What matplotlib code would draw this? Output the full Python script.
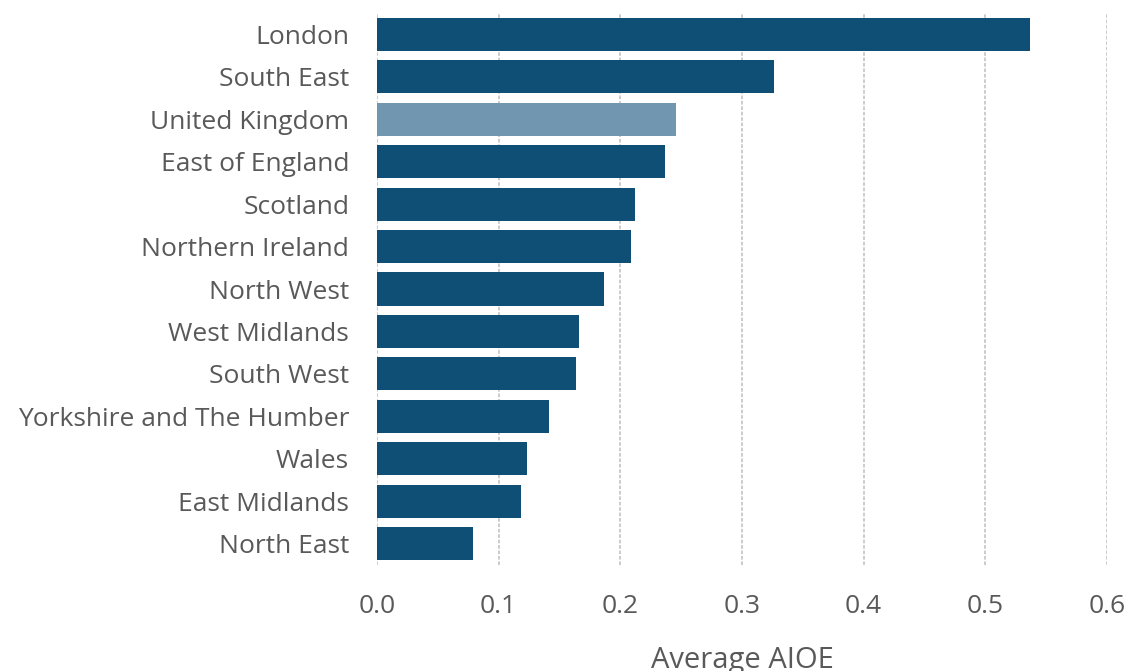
import numpy as np
import matplotlib.pyplot as plt

regions = ['London', 'South East', 'United Kingdom', 'East of England', 'Scotland',
           'Northern Ireland', 'North West', 'West Midlands', 'South West',
           'Yorkshire and The Humber', 'Wales', 'East Midlands', 'North East']
aioe = [0.537, 0.326, 0.246, 0.237, 0.212, 0.209, 0.187, 0.166, 0.164,
        0.141, 0.123, 0.118, 0.079]
xticks = [0.0, 0.1, 0.2, 0.3, 0.4, 0.5, 0.6]


def main():
    fig = plt.figure(figsize=(11.3, 6.71), dpi=100)
    ax = fig.add_axes([0.3336, 0.158, 0.646, 0.8225])

    colors = ['#7096B0' if r == 'United Kingdom' else '#0F4F75' for r in regions]
    y = np.arange(len(regions))
    ax.barh(y, aioe, height=0.78, color=colors, zorder=2)

    ax.set_ylim(len(regions) - 0.5, -0.5)
    ax.set_xlim(0, 0.6)
    ax.set_yticks(y)
    ax.set_yticklabels(regions)
    ax.set_xticks(xticks)
    ax.set_xticklabels(['%.1f' % t for t in xticks])

    ax.grid(axis='x', color='#C8C8C8', linestyle=(0, (2, 1)), linewidth=1.3, zorder=0)
    for s in ax.spines.values():
        s.set_visible(False)
    ax.tick_params(axis='both', length=0, labelsize=19, labelcolor='#595959')
    ax.tick_params(axis='y', pad=20)
    ax.tick_params(axis='x', pad=21)
    ax.set_xlabel('Average AIOE', fontsize=21, color='#595959', labelpad=19)

    fig.savefig('out.png', dpi=100)


if __name__ == '__main__':
    plt.rcParams['font.family'] = ['Open Sans', 'DejaVu Sans']
    main()
